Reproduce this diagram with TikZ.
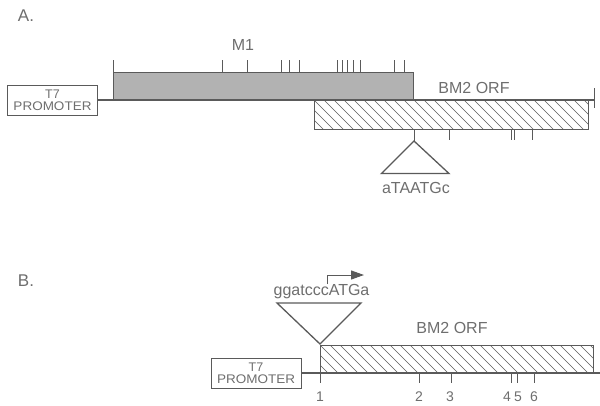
\documentclass[tikz,border=0pt]{standalone}
\usepackage{fontspec}
\setmainfont{Liberation Sans}
\usetikzlibrary{arrows.meta}
\definecolor{ink}{HTML}{5A5A5A}
\definecolor{txt}{HTML}{6E6E6E}
\begin{document}
\begin{tikzpicture}[x=1pt,y=-1pt,
  lbl/.style={text=txt,inner sep=0pt,font=\fontsize{16}{16}\selectfont},
  num/.style={text=txt,inner sep=0pt,font=\fontsize{14}{14}\selectfont},
  panel/.style={text=txt,inner sep=0pt,font=\fontsize{17}{17}\selectfont},
  promoter/.style={draw=ink,line width=0.9pt,minimum width=90pt,minimum height=30pt,inner sep=0pt,
    align=center,text=txt,font=\fontsize{12.5}{12}\selectfont},
  mainline/.style={draw=ink,line width=2pt},
  tick/.style={draw=ink,line width=1pt},
  tri/.style={draw=ink,line width=1.3pt,line join=miter},
  mbox/.style={draw=ink,line width=1pt,fill=black!30,minimum width=300pt,minimum height=28pt,inner sep=0pt},
  hatchbox/.style={draw=ink,line width=0.9pt,inner sep=0pt,
    path picture={\foreach \i in {-40,-30,...,290}
      \draw[ink,line width=0.6pt] ([xshift=\i pt]path picture bounding box.north west) -- ++(32pt,-32pt);}},
]
\useasboundingbox (0,0) rectangle (600,405);

% ---------------- Panel A ----------------
\node[panel] (A) at (26,16) {A.};
\node[promoter] (pA) at (52.5,100) {T7\\\scalebox{1.08}[1]{PROMOTER}};
\node[mbox] (m1) at (263,86) {};
\node[hatchbox,minimum width=274pt,minimum height=29pt] (orfA) at (451,114.5) {};
\coordinate (endA) at (594,100);
\draw[mainline] (pA.east) -- (endA);
\draw[tick] (594,88) -- (594,108);
\node[lbl] (m1lbl) at (243,45) {M1};
\node[lbl] (orfAlbl) at (474,88) {BM2 ORF};
% ticks above M1
\draw[tick] (113,60) -- (113,72);
\foreach \x in {222.7,247,281.7,289,299,337.7,342.3,347,353.3,360.3,394.7,404.3}
  \draw[tick] (\x,60) -- (\x,72);
% ticks below BM2 ORF
\foreach \x in {449,511,514.5,532}
  \draw[tick] (\x,129) -- (\x,140);
\coordinate (apexA) at (414,141);
\draw[tick] (414,129) -- (apexA);
\draw[tri] (apexA) -- (381.5,173.5) -- (449,173.5) -- cycle;
\node[lbl] (insA) at (416,188) {aTAATGc};

% ---------------- Panel B ----------------
\node[panel] (B) at (26,281) {B.};
\node[promoter] (pB) at (256,373) {T7\\\scalebox{1.08}[1]{PROMOTER}};
\node[hatchbox,minimum width=273pt,minimum height=28pt] (orfB) at (456.5,359) {};
\coordinate (endB) at (600,373);
\draw[mainline] (pB.east) -- (endB);
\node[lbl] (orfBlbl) at (452,328) {BM2 ORF};
\coordinate (apexB) at (320,344);
\draw[tri] (apexB) -- (277,303) -- (361,303) -- cycle;
\node[lbl] (insB) at (321.5,292) {ggatcccATGa};
\coordinate (arrS) at (327.5,284);
\coordinate (arrC) at (327.5,275);
\coordinate (arrE) at (364,275);
\draw[ink,line width=1pt,-{Triangle[length=13pt,width=9pt]}] (arrS) -- (arrC) -- (arrE);
% numbered ticks
\foreach \x in {320,419,451,511,517,534}
  \draw[tick] (\x,373) -- (\x,383);
\node[num] (n1) at (320,397) {1};
\node[num] (n2) at (419,397) {2};
\node[num] (n3) at (450,397) {3};
\node[num] (n4) at (507,397) {4};
\node[num] (n5) at (518,397) {5};
\node[num] (n6) at (534,397) {6};
\end{tikzpicture}
\end{document}
